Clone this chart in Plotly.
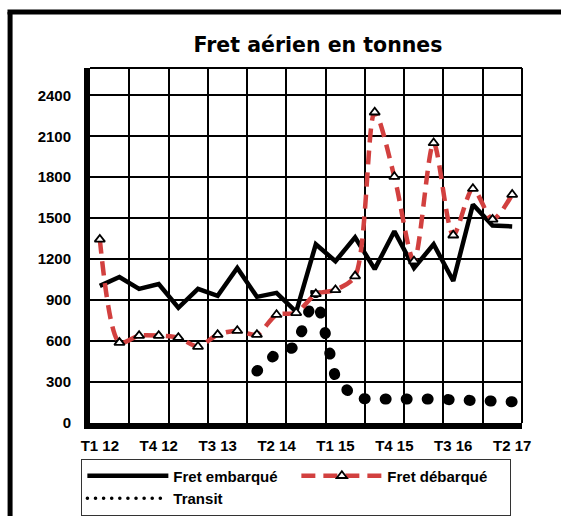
import plotly.graph_objects as go

#####################################################################################################################
# data (tonnes per quarter)

quarters = ["T1 12", "T2 12", "T3 12", "T4 12",
            "T1 13", "T2 13", "T3 13", "T4 13",
            "T1 14", "T2 14", "T3 14", "T4 14",
            "T1 15", "T2 15", "T3 15", "T4 15",
            "T1 16", "T2 16", "T3 16", "T4 16",
            "T1 17", "T2 17"]

fret_embarque = [1004, 1069, 982, 1018, 844, 982, 931, 1135, 924, 953, 814,
                 1309, 1185, 1360, 1127, 1404, 1135, 1309, 1040, 1600, 1447, 1440]

fret_debarque = [1345, 589, 640, 640, 625, 560, 647, 676, 647, 793, 807,
                 945, 975, 1076, 2276, 1804, 1185, 2051, 1375, 1716, 1491, 1673]

transit = [None, None, None, None, None, None, None, None,
           380, 510, 560, 960, 330, 180, 175, 168, 175, 175, 175, 175, 172, 155]

y_ticks = [0, 300, 600, 900, 1200, 1500, 1800, 2100, 2400]

#####################################################################################################################

x = list(range(len(quarters)))
FONT = "Liberation Sans"

fig = go.Figure()

fig.add_trace(go.Scatter(x=x, y=fret_embarque, mode="lines", name="Fret embarqué",
                         line=dict(color="black", width=4.5), legendrank=1))

fig.add_trace(go.Scatter(x=x, y=transit, mode="lines", name="Transit", uid="transit",
                         line=dict(color="black", width=11, dash="1px,20px"), legendrank=3))

fig.add_trace(go.Scatter(x=x, y=fret_debarque, mode="lines+markers", name="Fret débarqué",
                         line=dict(color="#d2403f", width=4.5, dash="14px,8px", shape="spline", smoothing=0.8),
                         marker=dict(symbol="triangle-up", size=9, color="white",
                                     line=dict(color="black", width=1.8)),
                         legendrank=2))

fig.update_layout(
    width=561, height=516,
    margin=dict(l=90, r=39, t=68, b=93, autoexpand=False),
    paper_bgcolor="white", plot_bgcolor="white",
    font=dict(family=FONT, size=15, color="black", weight="bold"),
    title=dict(text="Fret aérien en tonnes", x=318 / 561, xref="container", xanchor="center",
               y=1 - 45 / 516, yanchor="middle",
               font=dict(family="DejaVu Sans", size=20.5, weight="bold")),
    showlegend=True,
    legend=dict(orientation="h", x=-0.02, xanchor="left", y=-0.1, yanchor="top",
                entrywidth=118, itemwidth=81, bgcolor="white",
                bordercolor="#333333", borderwidth=1,
                font=dict(family=FONT, size=15, weight="bold")),
)

fig.update_xaxes(range=[-0.5, 21.5], tickvals=x[::3], ticktext=quarters[::3],
                 showgrid=False, zeroline=False, ticks="",
                 showline=True, linecolor="black", linewidth=6,
                 ticklabelstandoff=4,
                 minor=dict(tick0=-0.5, dtick=2, showgrid=True, gridcolor="black", gridwidth=2))

fig.update_yaxes(range=[0, 2600], tickvals=y_ticks, showgrid=True, gridcolor="black", gridwidth=2,
                 zeroline=False, ticks="", showline=True, linecolor="black", linewidth=6,
                 ticklabelstandoff=10)

# plot border (top / right) and the outer frame of the chart
fig.add_shape(type="line", xref="paper", yref="paper", x0=0, x1=1, y0=1, y1=1,
              line=dict(color="black", width=2))
fig.add_shape(type="line", xref="paper", yref="paper", x0=1, x1=1, y0=0, y1=1,
              line=dict(color="black", width=2))
fig.add_shape(type="line", xref="paper", yref="paper", x0=-0.185, x1=-0.185, y0=1.158, y1=-0.3,
              line=dict(color="black", width=5))
fig.add_shape(type="line", xref="paper", yref="paper", x0=-0.191, x1=1.12, y0=1.158, y1=1.158,
              line=dict(color="black", width=5))

# no page margin; round caps so the transit dash pattern shows as big dots
round_dots = """
document.body.style.margin = '0';
var gd = document.getElementById('{plot_id}');
gd.querySelectorAll('.tracetransit path.js-line').forEach(function(p){
    p.style.strokeLinecap = 'round';
});
gd.querySelectorAll('.legend .traces').forEach(function(t){
    if (t.textContent.trim() === 'Transit') {
        t.querySelectorAll('path.js-line').forEach(function(p){
            p.style.strokeLinecap = 'round';
            p.style.strokeWidth = '3.5px';
            p.style.strokeDasharray = '0.1px,8px';
        });
    }
});
"""

fig.write_html("out.html", post_script=round_dots, config={"displayModeBar": False})
